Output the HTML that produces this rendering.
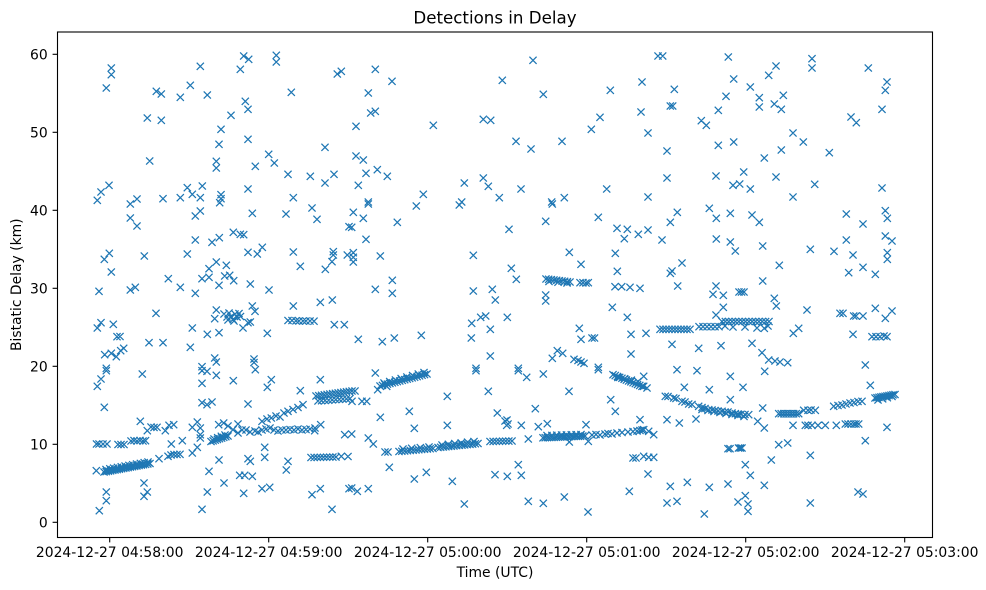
<!DOCTYPE html>
<html>
<head>
<meta charset="utf-8">
<style>
html,body{margin:0;padding:0;background:#fff;}
svg{display:block;}
text{font-family:"DejaVu Sans","Liberation Sans",sans-serif;fill:#000;}
</style>
</head>
<body>
<svg id="chart" width="986" height="590" viewBox="0 0 986 590" xmlns="http://www.w3.org/2000/svg">
<rect x="0" y="0" width="986" height="590" fill="#fff"/>
<defs><clipPath id="ax"><rect x="57.5" y="32" width="875" height="505.5"/></clipPath></defs>
<g clip-path="url(#ax)"><path id="pts" d="" fill="none" stroke="#1f77b4" stroke-width="1.25"/></g>
<rect x="57.5" y="32" width="875" height="505.5" fill="none" stroke="#000" stroke-width="1.1"/>
<g stroke="#000" stroke-width="1.1">
<line x1="52.6" y1="522.3" x2="57.5" y2="522.3"/>
<line x1="52.6" y1="444.3" x2="57.5" y2="444.3"/>
<line x1="52.6" y1="366.3" x2="57.5" y2="366.3"/>
<line x1="52.6" y1="288.3" x2="57.5" y2="288.3"/>
<line x1="52.6" y1="210.3" x2="57.5" y2="210.3"/>
<line x1="52.6" y1="132.3" x2="57.5" y2="132.3"/>
<line x1="52.6" y1="54.3" x2="57.5" y2="54.3"/>
<line x1="109.7" y1="537.5" x2="109.7" y2="542.4"/>
<line x1="268.7" y1="537.5" x2="268.7" y2="542.4"/>
<line x1="427.7" y1="537.5" x2="427.7" y2="542.4"/>
<line x1="586.7" y1="537.5" x2="586.7" y2="542.4"/>
<line x1="745.7" y1="537.5" x2="745.7" y2="542.4"/>
<line x1="904.7" y1="537.5" x2="904.7" y2="542.4"/>
</g>
<g font-size="13.9" text-anchor="end">
<text x="47.7" y="527.3">0</text>
<text x="47.7" y="449.3">10</text>
<text x="47.7" y="371.3">20</text>
<text x="47.7" y="293.3">30</text>
<text x="47.7" y="215.3">40</text>
<text x="47.7" y="137.3">50</text>
<text x="47.7" y="59.3">60</text>
</g>
<g font-size="13.9" text-anchor="middle">
<text x="109.7" y="557">2024-12-27 04:58:00</text>
<text x="268.7" y="557">2024-12-27 04:59:00</text>
<text x="427.7" y="557">2024-12-27 05:00:00</text>
<text x="586.7" y="557">2024-12-27 05:01:00</text>
<text x="745.7" y="557">2024-12-27 05:02:00</text>
<text x="904.7" y="557">2024-12-27 05:03:00</text>
<text x="495" y="577">Time (UTC)</text>
<text x="21" y="284.75" transform="rotate(-90 21 284.75)">Bistatic Delay (km)</text>
</g>
<text x="495" y="23.7" font-size="16.67" text-anchor="middle">Detections in Delay</text>
</svg>
<script>
var P=[];
function p(a){for(var i=0;i<a.length;i++)P.push(a[i]);}
function L(x1,y1,x2,y2,n){for(var i=0;i<n;i++){var t=n==1?0:i/(n-1);P.push([x1+(x2-x1)*t,y1+(y2-y1)*t]);}}
p([[111.3,68],[111.3,74.7],[106.3,88],[156.3,91.3],[161.3,94],[180.3,97.3],[190.3,85.3],[200.3,66.3],[207.3,95],[147.3,118],[161.3,120.3],[149.7,161],[240.3,69.3],[243.7,56],[248.7,59.3],[276.3,55.3],[276.3,62],[291.3,92.3],[337.3,74],[341.3,71.3],[245.3,101.3],[248,109.3],[231,115.3],[221,129.3],[219,144.3],[248,139.3],[216.3,161.3],[216.3,168],[255.3,166.3],[268.7,154.3],[274.3,163],[288,174.3],[310.3,176.3],[325,147.3],[325,183],[334,174.3],[109,185.3],[101,192],[97.3,200.3],[137,199],[163,198.7],[180.3,197.7],[187.3,187.7],[192.3,194.3],[202.3,186],[200.3,197.7],[221,194.7],[221,198.7],[248,189],[293.3,197.7]]);
p([[130.3,204],[219.7,202.7],[130.3,218],[137,226],[195.3,216],[200.3,211],[252.3,213.3],[286,214],[312,208],[317,219.3],[349,226.7],[195.3,240],[212,242.3],[219.3,237.7],[233.3,232.3],[240.3,234.3],[243.7,234.7],[109.3,253.3],[104.3,259.3],[144.3,256],[187.3,254],[248,252.3],[257.3,254],[262.3,247.3],[293.3,252],[300.3,266.3],[333.3,251.7],[333.3,255],[332,261.7],[325.3,269.3],[347.3,255],[111.3,272],[216.3,262],[209,268.7],[226.3,265.3],[202,278.7],[209,277.3],[224.7,276],[229.7,275.3],[233.7,280.7],[219,285.3],[250.3,284],[269,290],[168.3,278.7],[180.3,287.3],[195.3,293.3],[99,291.3],[130.3,290],[135.3,287.3],[156,313.3],[216.3,310],[214.7,318.7],[252.3,306],[255,311.3],[250.3,322],[248,322.7],[243,328],[219,332.7],[207.3,334.3],[192.3,328],[267.3,333.3],[293.3,306],[320.3,302.3],[332.3,300],[334.3,324.7],[344.3,324.7],[101,322.7],[97.3,328],[113.3,324.3],[117,336.7],[120,336.5],[149,342.7],[163,342.7],[190.3,347.3],[104.7,354.7],[111.3,353.3],[116.3,356.7],[120.7,350.7],[123.7,348.3],[106.3,368.3],[214.7,358],[216.3,362],[202,366.7],[254,359],[254,362.5]]);
p([[224,314],[227,317],[229,313],[231,316.5],[233,319.5],[235,314],[237,317],[239,313.5],[240.5,316.5],[228,320],[234,321]]);
p([[288,320.5],[292,320.5],[296,320.8],[299,321],[303,321],[306,321],[310,321],[314,321.2]]);
p([[106.3,370.7],[101,379],[97.3,386.3],[104.3,407.3],[142.3,374],[202,370.7],[207,371.3],[216.3,375.3],[202,383.3],[233.3,380.7],[255.3,369.7],[271.3,379.7],[267.3,387.3],[300.3,390.7],[320.3,379.7],[202,402.7],[207,404.7],[212,402],[248,404],[140.3,421.3],[147.3,430.7],[165.3,430.7],[169,425.3],[173.7,424.7],[192.3,427.3],[197.3,422],[200.3,428],[200.3,434.7],[200.3,438],[159,458.7],[168,456.3],[192.3,453],[197.3,447.3],[171.3,444],[182.3,440.7],[219,460],[209,471.3],[207.3,492],[202,509.3],[224,483],[248,458.7],[250.3,461.3],[239.7,475.3],[244.7,475.3],[252.3,476.3],[243.7,493.3],[264.7,447.3],[264.7,457.3],[262,488.7],[269.7,487.3],[288,461.3],[286.3,470],[312,494.7],[320.3,488.7],[332,509.3],[349,488.7],[106.3,492],[106.3,500.7],[99.3,510.7],[144,483],[147.3,492],[144,496.3],[320.7,424.7],[314.7,430.7],[344.7,434.7]]);
p([[151,427],[154,427.5],[157,427.3]]);
p([[96.5,444],[99,444],[103,444],[107,444],[118,444.5],[121,444.5],[124,444.5],[131,441],[134,440.5],[137,441],[140,440.5],[143,441],[145.5,440.7]]);
p([[171,455],[174,454.5],[177,454.5],[180,454.3]]);
p([[96.3,470.7]]);L(104,472,150,463.5,22);L(106,469.5,148,462,12);
L(211,441.5,228,436,9);L(214,439,225,435,4);
p([[218.7,424.7],[223.7,423],[228,426],[233,429.7],[238,424],[238,433],[242,430],[246,430],[250,432],[255,431],[258,432],[262,430],[266,429],[270,428],[274,430],[278,431],[282,430],[286,430],[290,429.5],[294,430],[298,429],[302,430],[306,429.5],[310,429],[315,428]]);
p([[262,421.3],[267,419],[271.3,418],[276,416],[280,417],[284,413],[288,411.3],[293,409.5],[298,407.5],[303,404.7]]);
L(316,396,352,391,14);L(318,401,350,398.5,10);
L(311,457.5,336,457,9);p([[341.3,456.3],[348,456.5]]);
p([[375.3,69.3],[392,81.3],[368.3,93],[370.7,113],[375.3,111.3],[356,126.3],[433.3,125.3],[483.3,119.3],[490.7,120.3],[502.3,80.3],[533,60.3],[543.3,94.3],[516,141.3],[531,149],[562,141.3],[591.3,129.3],[600,117.3],[610.3,90.3],[642,82],[641,112],[356,156],[363.3,160],[366,173.3],[377.3,169.7],[387.3,176.3],[358.3,185.3],[423.3,194.3],[464.3,183],[483.3,178],[488.3,186.3],[499.3,197.7],[521,189],[564.3,197.7],[606.7,189],[368.3,202],[461.7,202],[551.7,202]]);
p([[368.3,204],[353.3,212.3],[363.3,218.3],[351.7,227.3],[416.3,206],[459.3,205],[397.3,222.3],[366,239.3],[353.3,252.7],[353.3,257.3],[353.3,262],[380.3,256],[473.3,255.3],[509,229.3],[545.7,221.3],[552.3,204],[598.3,217.3],[617,228.3],[627.3,229.3],[624.3,238.7],[638.3,234.3],[392.3,280.3],[375.3,289.3],[392.3,293.3],[473.3,291],[492.3,289.3],[495.3,300],[511.3,268.3],[516.3,279.3],[569.3,252.3],[581,264.3],[615.3,253.3],[617.3,271.3],[545.7,295],[545.7,301],[615,286.7],[621.7,286.7],[630,287.3],[640,288.3],[612.3,307.3],[627.3,317.3],[631,334.3],[631,354],[471.7,323.3],[480.7,317.3],[485.7,316],[490.3,329.3],[507.3,317.3],[471.3,338],[490.3,356],[358.3,339.3],[382.3,341.7],[394.3,338],[421.3,335.3],[579.3,328.3],[581,339.3],[592,338],[594.5,338],[552.3,358.3],[557.3,350.7],[562.7,353.3],[574,359.3],[578,360.5],[581,362],[584,363.3],[598.3,367.3],[476,368.3],[518.3,368.3]]);
L(546,279,570,282,10);L(549,281.5,567,283,3);
p([[580,282.7],[583,282.7],[586,283],[588.3,282.7]]);
p([[375.3,373],[377.7,389.7],[386.7,386.3],[476,370.7],[518.3,370.7],[526.7,377.3],[543.3,374],[598.3,369.7],[447.3,396.3],[488.3,391.3],[569,391.3],[610.7,399.7],[615.3,411.3],[380.3,417.3],[409.3,411.3],[414.3,428.3],[447.3,425.3],[497.3,413],[505,421],[507,420],[506.7,425.3],[508,424],[521.3,425.3],[535.3,408.7],[538.3,426.7],[547.3,423.7],[528.3,439],[586,424.7],[640,419.7],[351.7,434],[368.3,438],[373.3,444],[385,452],[388,452],[389.3,467.3],[414.3,479],[426.3,472.3],[452.3,481.3],[495,474.7],[507.3,476.3],[518.3,464.7],[521.3,475.3],[633,458],[636,458],[351.7,488],[357.3,491.3],[368.3,488.7],[464.3,504],[528.3,501.3],[543.3,503.3],[564.3,497],[588,512],[629.3,491.3],[569.3,442],[588.3,441.3],[355,391],[352,401.3],[362,401.3],[366.7,401.3]]);
L(380,386,427,374,20);L(384,383,424,372.5,8);
L(399,451.5,433,448.5,13);L(403,449,429,447,4);
L(438,447.5,478,443.5,16);L(442,445,474,441.5,6);
L(490,441.5,512,441,8);
L(543,437.8,585,436,20);L(547,435.5,581,434.5,8);
p([[592,435],[596,434.5],[600,435],[605,434],[608,433.5],[612,434],[617,433],[622,432.5],[628,432],[633,431.5],[637,431],[640,430.5],[642,430]]);
L(613,374.7,642,386.3,14);L(618,377.5,638,381.5,4);
p([[658,56],[662.7,56],[728.3,57],[776,66],[768.7,75.3],[812,58.7],[812,68],[868.3,68],[887,82],[885.3,90.3],[882,109.3],[674.3,89.3],[733.7,79],[750.3,87],[726,96.3],[759.3,97.7],[759.3,107],[774.3,104],[783.3,95.3],[781.3,109.3],[718.3,110.3],[670.3,106],[672.7,106],[701.3,120.7],[706.3,125.3],[648,133],[667,151],[718.3,145.3],[733.7,142],[764.3,158],[781.3,150],[793,133],[803.3,142],[829.3,152.7],[851,117],[856.3,122.7],[667,178],[716,176],[743.7,172],[733,185.3],[739.7,184],[750.3,189],[776,177],[793,197],[814.7,184.3],[882,188],[648,197]]);
p([[677.3,212.3],[670.3,222.3],[648,230],[662,240],[709.3,208.3],[716.3,218.3],[730.3,213.3],[752,215],[759.3,222.3],[716.3,239],[730.3,242],[735.3,251],[762.7,246],[810.3,249.3],[834,251.3],[846.3,214],[863,224],[885.3,210.7],[887.3,218.3],[846.3,240],[853,255],[885.3,236],[892,241],[887.3,252.7],[887.3,259.3],[863,267.3],[875.3,274.3],[848.7,272.7],[682,263],[670.3,273.3],[672,271],[677.7,286],[716,286],[713,294.3],[723.3,295.3],[739,292],[741.5,292],[744,292],[762.7,281],[779.3,265.3],[774.3,298.3],[776.3,306],[723.3,307.3],[716,315],[807,310],[840,313.3],[843,313.3],[853.7,316],[856,316],[863,316],[875.3,308.3],[885.3,318.3],[892,311],[764.3,328.3],[672,344.3],[698.7,348.3],[721,345.7],[752,343.3],[762,352.7],[768.7,360],[775,361],[780,362],[787.7,362.7],[793.3,333.3],[798.7,328.3],[853,334.3],[872,336.7],[876,336.7],[880,336.7],[884,336],[887,336.7],[865.3,365],[677,369.7],[697,370.7]]);
p([[646,333.3]]);L(660,329.3,690,329.3,11);L(699,326.7,719,326.7,6);L(722,321.5,769,321.5,15);
p([[725,326],[733,327],[745,327],[757,328],[768,326]]);
p([[730.3,376.3],[764.7,371.3],[643.7,376.3],[647,388],[643.7,386.3],[684.3,387.3],[709.3,389.7],[743,387.3],[730.3,399.7],[870.3,385.3],[762.7,408],[757.7,421.3],[764.3,428],[667,419.7],[679.3,423],[696,419],[793,425.3],[836.3,425.3],[887,427.3],[643.7,429.7],[648.7,431.3],[653.7,434.7],[728,448.7],[730,448.7],[738.5,448],[740.3,448],[742,448],[778.7,444.7],[787.7,443],[771.3,460],[745.3,464.7],[750.3,475.3],[810.3,455.3],[865.3,440.7],[643.7,456.3],[648.7,457.3],[653.7,457.3],[648,474],[670.3,486.3],[687.3,482.3],[709.3,487.3],[728,484],[764.3,485.3],[667,503],[677,501.3],[704.3,514],[738,502],[745.3,495.7],[748,504],[748,511.3],[810.3,503],[858,492],[863,494]]);
p([[665.3,396.3],[668,396.5],[673.7,398],[676,398.5],[682,401.3],[685,402],[688.7,404],[692,404.5],[698.7,406.3],[702,407.5],[705,408.5],[708.7,409.7],[712,410],[715,410.5],[718,411],[722,411.3],[725,412],[728,412],[732,413],[735.3,413.7],[738,414],[741,414.3],[745,414.5],[748.7,414.7]]);
L(702,409.5,744,416.5,8);
L(778.7,413.7,798.7,413.7,9);
p([[803.7,410.3],[808,410.3],[811,410],[815.3,410.3],[833.7,406.3],[838,405.5],[842,405],[846,404],[850,403],[854,402.5],[858,401.5],[862,401.3]]);
L(875,398,895,394.5,11);L(878,400,892,396.5,4);
p([[805.3,425.3],[808,425.3],[812,425.3],[818,425.3],[825.3,425.3],[845.3,424],[848,424],[851,424],[854,424],[856,424],[858.7,424]]);
var a=3.6,d=[];
for(var i=0;i<P.length;i++){var x=P[i][0],y=P[i][1];
d.push('M'+(x-a).toFixed(2)+' '+(y-a).toFixed(2)+'L'+(x+a).toFixed(2)+' '+(y+a).toFixed(2)+'M'+(x-a).toFixed(2)+' '+(y+a).toFixed(2)+'L'+(x+a).toFixed(2)+' '+(y-a).toFixed(2));}
document.getElementById('pts').setAttribute('d',d.join(''));
</script>
</body>
</html>
